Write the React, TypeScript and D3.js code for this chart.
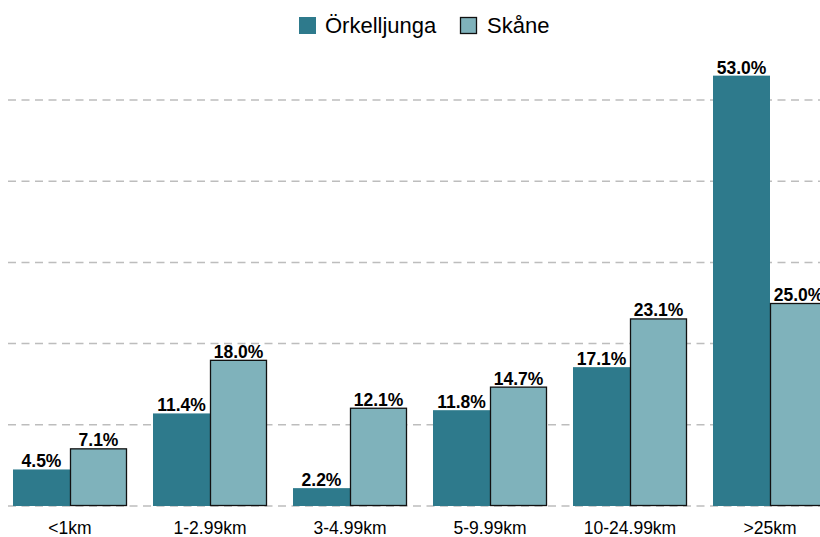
import React from "react";
import * as d3 from "d3";

const categories = ["<1km", "1-2.99km", "3-4.99km", "5-9.99km", "10-24.99km", ">25km"];
const seriesNames = ["Örkelljunga", "Skåne"];
const orkelljunga = [4.5, 11.4, 2.2, 11.8, 17.1, 53.0];
const skane = [7.1, 18.0, 12.1, 14.7, 23.1, 25.0];
const gridTicks = [0, 10, 20, 30, 40, 50];

const colors = ["#2e7a8c", "#7fb2bb"];

export default function App() {
  const W = 820;
  const H = 537;
  const x0 = d3
    .scaleBand<string>()
    .domain(categories)
    .range([0, 840])
    .paddingInner(26 / 140)
    .paddingOuter(13 / 140);
  const x1 = d3.scaleBand<string>().domain(seriesNames).range([0, x0.bandwidth()]);
  const y = d3.scaleLinear().domain([0, 50]).range([506, 100]);
  const series = [orkelljunga, skane];
  const font = "Arial, 'Liberation Sans', Helvetica, sans-serif";

  return (
    <div style={{ position: "fixed", left: 0, top: 0, width: W, height: H, background: "#fff" }}>
      <svg width={W} height={H} style={{ display: "block" }} fontFamily={font}>
        {gridTicks.map((t) => (
          <line
            key={t}
            x1={8}
            x2={W}
            y1={y(t)}
            y2={y(t)}
            stroke="#bdbdbd"
            strokeWidth={1.5}
            strokeDasharray="8,5.5"
          />
        ))}
        {categories.map((c, i) => (
          <g key={c} transform={`translate(${x0(c)},0)`}>
            {seriesNames.map((s, k) => {
              const v = series[k][i];
              const bx = x1(s)!;
              const bw = x1.bandwidth();
              const top = y(v);
              return (
                <g key={s}>
                  <rect
                    x={k === 1 ? bx + 0.5 : bx}
                    y={k === 1 ? top + 0.5 : top}
                    width={k === 1 ? bw - 1 : bw}
                    height={k === 1 ? y(0) - top - 1 : y(0) - top}
                    fill={colors[k]}
                    stroke={k === 1 ? "#111" : "none"}
                    strokeWidth={k === 1 ? 1.3 : 0}
                  />
                  <text
                    x={bx + bw / 2}
                    y={top - 2}
                    textAnchor="middle"
                    fontSize={17.5}
                    fontWeight="bold"
                    fill="#000"
                  >
                    {v.toFixed(1) + "%"}
                  </text>
                </g>
              );
            })}
            <text
              x={x0.bandwidth() / 2}
              y={534}
              textAnchor="middle"
              fontSize={17.5}
              fill="#000"
            >
              {c}
            </text>
          </g>
        ))}
        <g>
          <rect x={299} y={17} width={17} height={17} fill={colors[0]} />
          <text x={325} y={33} fontSize={22} fill="#000">
            {seriesNames[0]}
          </text>
          <rect x={460.5} y={17.5} width={16} height={16} fill={colors[1]} stroke="#111" strokeWidth={1.3} />
          <text x={487} y={33} fontSize={22} fill="#000">
            {seriesNames[1]}
          </text>
        </g>
      </svg>
    </div>
  );
}
